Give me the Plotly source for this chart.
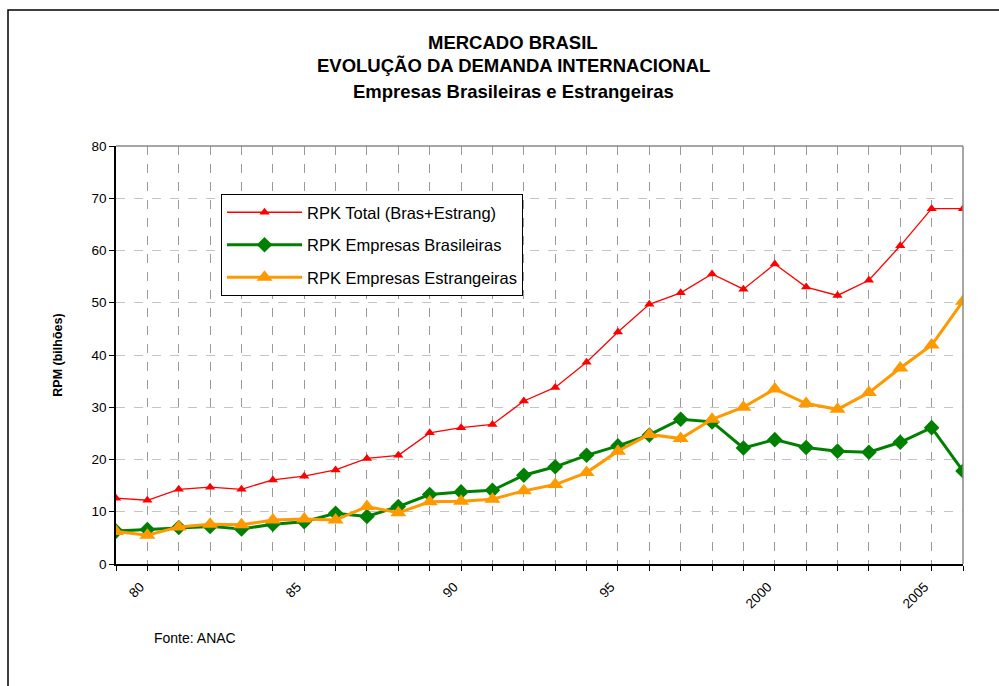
import plotly.graph_objects as go

years = list(range(1979, 2007))
tick_labels = {1980: "80", 1985: "85", 1990: "90", 1995: "95", 2000: "2000", 2005: "2005"}

rpk_total = [12.6, 12.2, 14.3, 14.7, 14.3, 16.1, 16.8, 18.0, 20.2, 20.8,
             25.1, 26.1, 26.7, 31.2, 33.8, 38.6, 44.4, 49.7, 51.9, 55.5,
             52.6, 57.4, 53.0, 51.4, 54.3, 60.9, 68.0, 68.0]
rpk_bras = [6.3, 6.6, 7.0, 7.2, 6.7, 7.6, 8.1, 9.7, 9.1, 11.0,
            13.3, 13.8, 14.1, 17.0, 18.6, 20.8, 22.6, 24.7, 27.7, 27.2,
            22.2, 23.8, 22.3, 21.6, 21.4, 23.3, 26.1, 17.8]
rpk_estr = [6.2, 5.5, 7.1, 7.6, 7.5, 8.4, 8.6, 8.4, 11.0, 9.8,
            11.9, 12.0, 12.4, 14.0, 15.2, 17.5, 21.6, 24.8, 24.0, 27.7,
            30.0, 33.5, 30.7, 29.6, 32.8, 37.5, 41.9, 50.3]

FONT = "Liberation Sans, Arial, sans-serif"

fig = go.Figure()
fig.add_trace(go.Scatter(x=years, y=rpk_total, name="RPK Total (Bras+Estrang)",
                         mode="lines+markers", legendgroup="a",
                         line=dict(color="#ff0000", width=1.3),
                         marker=dict(symbol="triangle-up", size=9, color="#ff0000")))
fig.add_trace(go.Scatter(x=years, y=rpk_bras, name="RPK Empresas Brasileiras",
                         mode="lines+markers", legendgroup="b",
                         line=dict(color="#008000", width=3),
                         marker=dict(symbol="diamond", size=12, color="#008000")))
fig.add_trace(go.Scatter(x=years, y=rpk_estr, name="RPK Empresas Estrangeiras",
                         mode="lines+markers", legendgroup="c",
                         line=dict(color="#ff9900", width=3),
                         marker=dict(symbol="triangle-up", size=14, color="#ff9900")))

L, R, T, B = 116, 36, 146, 122
W, H = 999, 686
pw, ph = W - L - R, H - T - B

def px(x):
    return (x - L) / pw

def py(y):
    return (H - B - y) / ph

fig.update_layout(
    width=W, height=H,
    margin=dict(l=L, r=R, t=T, b=B),
    paper_bgcolor="white", plot_bgcolor="white",
    font=dict(family=FONT, color="#000000", size=13),
    showlegend=True,
    legend=dict(x=px(221), y=py(194), xanchor="left", yanchor="top",
                bgcolor="white", bordercolor="#000000", borderwidth=1,
                font=dict(family=FONT, size=16.5, color="#000000"),
                tracegroupgap=8, itemwidth=75),
    xaxis=dict(range=[1979, 2006], tickmode="array", tickvals=years,
               ticktext=[tick_labels.get(y, "") for y in years],
               tickangle=-45, ticks="outside", ticklen=5, tickcolor="#000000",
               tickfont=dict(family=FONT, size=13.5),
               ticklabelshift=-7, ticklabelstandoff=3,
               showgrid=True, gridcolor="#9a9a9a", griddash="dash", gridwidth=1,
               showline=True, linecolor="#000000", linewidth=1.5,
               mirror=False, zeroline=False),
    yaxis=dict(range=[0, 80], tickmode="array", tickvals=list(range(0, 81, 10)),
               ticks="outside", ticklen=5, tickcolor="#000000",
               tickfont=dict(family=FONT, size=13.5),
               showgrid=True, gridcolor="#c4c4c4", griddash="dash", gridwidth=1,
               showline=True, linecolor="#000000", linewidth=1.5,
               zeroline=False,
               title=dict(text="<b>RPM (bilhões)</b>", font=dict(family=FONT, size=12.5),
                          standoff=26)),
)

# top and right plot borders (gray)
fig.add_shape(type="line", xref="paper", yref="paper", x0=0, x1=1, y0=1, y1=1,
              line=dict(color="#888888", width=1.5))
fig.add_shape(type="line", xref="paper", yref="paper", x0=1, x1=1, y0=0, y1=1,
              line=dict(color="#888888", width=1.5))
# outer frame
fig.add_shape(type="rect", xref="paper", yref="paper",
              x0=px(8), x1=px(1010), y0=py(700), y1=py(10),
              line=dict(color="#000000", width=1.5), layer="below")

titles = [("<b>MERCADO BRASIL</b>", 42), ("<b>EVOLUÇÃO DA DEMANDA INTERNACIONAL</b>", 66),
          ("<b>Empresas Brasileiras e Estrangeiras</b>", 91)]
for txt, yy in titles:
    fig.add_annotation(text=txt, xref="paper", yref="paper", x=px(513), y=py(yy),
                       xanchor="center", yanchor="middle", showarrow=False,
                       font=dict(family=FONT, size=18.5, color="#000000"))

fig.add_annotation(text="Fonte: ANAC", xref="paper", yref="paper", x=px(152), y=py(638),
                   xanchor="left", yanchor="middle", showarrow=False,
                   font=dict(family=FONT, size=14, color="#000000"))

fig.write_html("out.html")
